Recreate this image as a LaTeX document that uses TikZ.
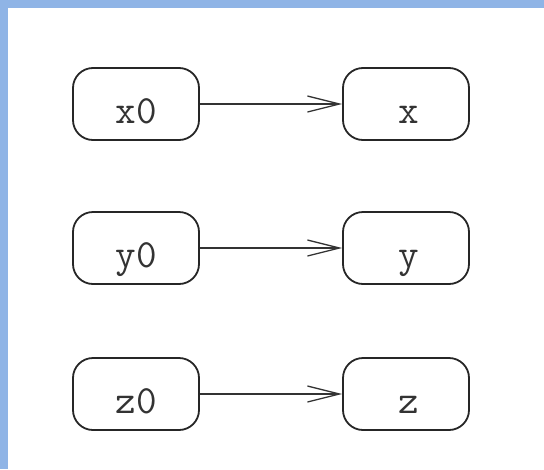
\documentclass[tikz,border=0pt]{standalone}
\usetikzlibrary{arrows.meta}
\definecolor{frameblue}{HTML}{8FB4E6}
\tikzset{
  varbox/.style={draw=black!85, line width=1.8pt, rounded corners=20pt,
    minimum width=126pt, minimum height=72pt, inner sep=0pt},
  lbl/.style={font=\ttfamily\fontsize{40}{40}\selectfont, text=black!80, inner sep=0pt, anchor=base},
  link/.style={draw=black!80, line width=1.3pt, -{Straight Barb[length=32pt,width=16pt,line width=1.3pt]}}
}
\begin{document}
\begin{tikzpicture}[x=1pt,y=-1pt]
\useasboundingbox (0,0) rectangle (544,469);
\fill[frameblue] (0,0) rectangle (544,8);
\fill[frameblue] (0,0) rectangle (8,469);
\node[varbox] (x0) at (136,104) {};
\node[varbox] (x)  at (406,104) {};
\node[varbox] (y0) at (136,248) {};
\node[varbox] (y)  at (406,248) {};
\node[varbox] (z0) at (136,394) {};
\node[varbox] (z)  at (406,394) {};
\node[lbl] (tx0) at (136,123) {x0};
\node[lbl] (tx)  at (409,123) {x};
\node[lbl] (ty0) at (136,267) {y0};
\node[lbl] (ty)  at (409,267) {y};
\node[lbl] (tz0) at (136,413) {z0};
\node[lbl] (tz)  at (409,413) {z};
\draw[link] (x0) -- (x);
\draw[link] (y0) -- (y);
\draw[link] (z0) -- (z);
\end{tikzpicture}
\end{document}
